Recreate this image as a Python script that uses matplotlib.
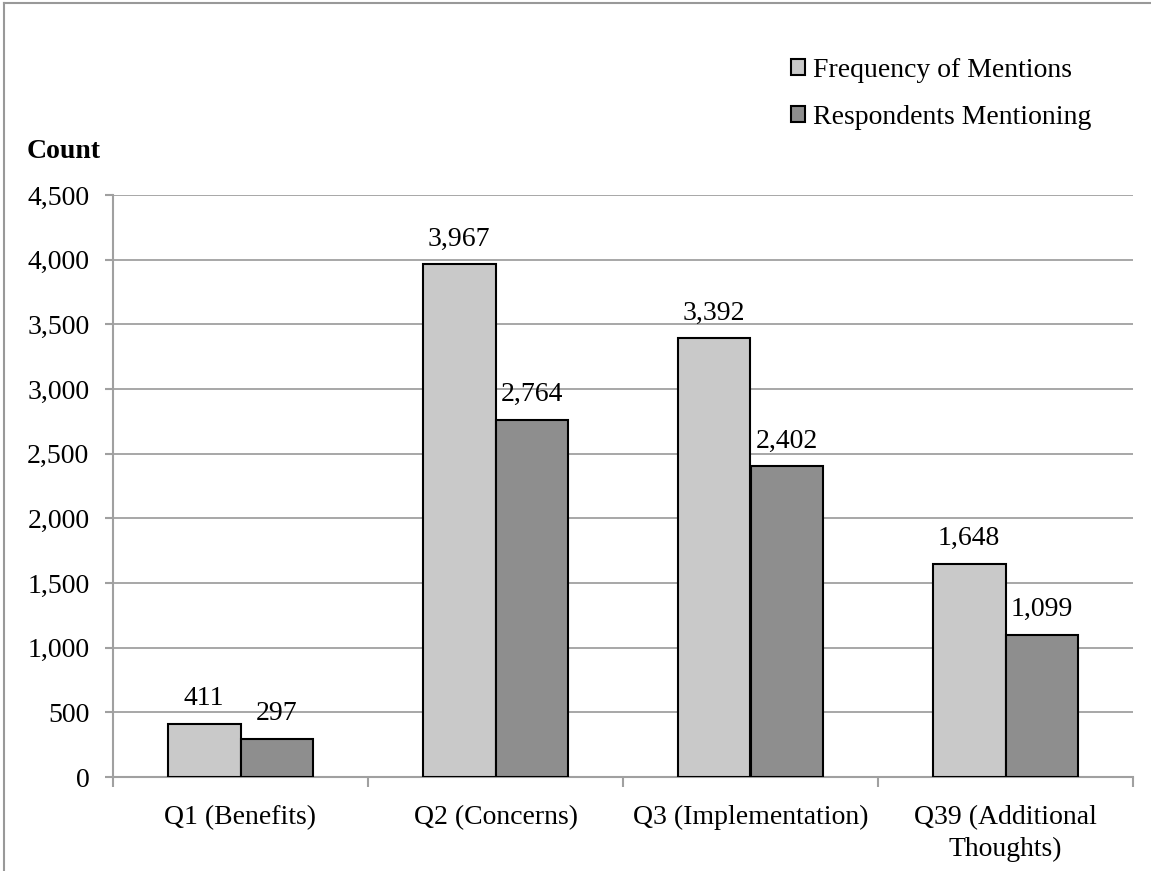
import matplotlib.pyplot as plt
import numpy as np
from matplotlib.lines import Line2D
from matplotlib.ticker import FuncFormatter

categories = ["Q1 (Benefits)", "Q2 (Concerns)", "Q3 (Implementation)", "Q39 (Additional\nThoughts)"]
freq_mentions = [411, 3967, 3392, 1648]
resp_mentioning = [297, 2764, 2402, 1099]
series_names = ["Frequency of Mentions", "Respondents Mentioning"]

plt.rcParams["font.family"] = ["Liberation Serif", "DejaVu Serif"]
FS = 20
GRID = "#a0a0a0"

W, H = 1151, 871
fig = plt.figure(figsize=(W / 100, H / 100), dpi=100)
ax = fig.add_axes([113 / W, 1 - 777 / H, (1133 - 113) / W, (777 - 195) / H])

x = np.arange(len(categories))
bw = 1 / 3.5
b1 = ax.bar(x - bw / 2, freq_mentions, bw, color="#c9c9c9", edgecolor="black",
            linewidth=1.5, label=series_names[0], zorder=3)
b2 = ax.bar(x + bw / 2, resp_mentioning, bw, color="#8e8e8e", edgecolor="black",
            linewidth=1.5, label=series_names[1], zorder=3)

for bars in (b1, b2):
    for r in bars:
        v = r.get_height()
        ax.annotate(f"{int(v):,}", (r.get_x() + r.get_width() / 2, v),
                    xytext=(0, 9), textcoords="offset points",
                    ha="center", va="bottom", fontsize=FS)

ax.set_xlim(-0.5, len(categories) - 0.5)
ax.set_ylim(0, 4500)
ax.set_yticks(np.arange(0, 4501, 500))
ax.yaxis.set_major_formatter(FuncFormatter(lambda v, p: f"{int(v):,}"))
ax.tick_params(axis="y", labelsize=FS, length=6, width=1.5, color=GRID, pad=11)

ax.set_xticks(x)
ax.set_xticklabels(categories, fontsize=FS, linespacing=1.35)
ax.set_xticks(np.arange(-0.5, len(categories)), minor=True)
ax.tick_params(axis="x", which="major", length=0, pad=20)
ax.tick_params(axis="x", which="minor", length=7, width=1.5, color=GRID)

ax.grid(axis="y", color=GRID, linewidth=1.3, zorder=0)
ax.set_axisbelow(True)
for s in ("top", "right"):
    ax.spines[s].set_visible(False)
for s in ("left", "bottom"):
    ax.spines[s].set_color(GRID)
    ax.spines[s].set_linewidth(1.5)

fig.text(27 / W, 1 - 152 / H, "Count", fontsize=FS, fontweight="bold",
         ha="left", va="center")

fig.legend(handles=[b1, b2], loc="upper left",
           bbox_to_anchor=(791 / W, 1 - 58 / H), frameon=False, fontsize=FS,
           handlelength=0.5, handleheight=0.5, handletextpad=0.3,
           labelspacing=0.8, borderpad=0, borderaxespad=0)

# outer frame (top and left edges only are visible)
fig.add_artist(Line2D([4 / W, 4 / W], [0, 1 - 3 / H], color="#999999", linewidth=1.5))
fig.add_artist(Line2D([4 / W, 1], [1 - 3 / H, 1 - 3 / H], color="#999999", linewidth=1.5))

fig.savefig("out.png", dpi=100)
